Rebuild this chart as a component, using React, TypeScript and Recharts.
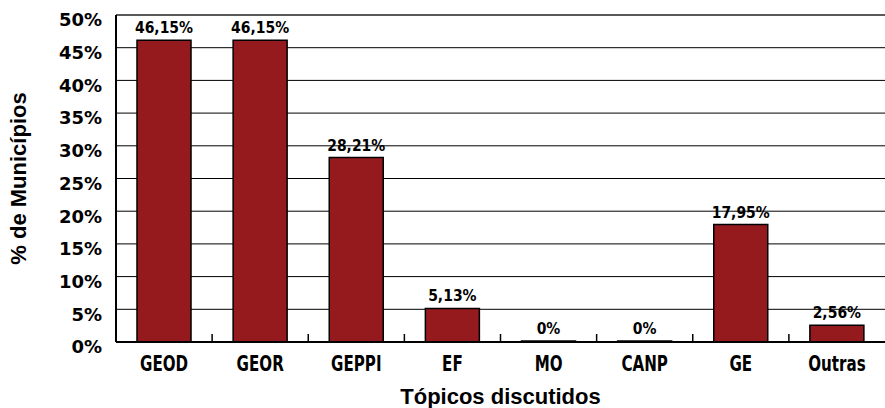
import React from "react";
import {
  BarChart,
  Bar,
  XAxis,
  YAxis,
  CartesianGrid,
  ReferenceLine,
  LabelList,
} from "recharts";

const categories = ["GEOD", "GEOR", "GEPPI", "EF", "MO", "CANP", "GE", "Outras"];
const percentages = [46.15, 46.15, 28.21, 5.13, 0, 0, 17.95, 2.56];
const yTicks = [0, 5, 10, 15, 20, 25, 30, 35, 40, 45, 50];

const data = categories.map((topic, i) => ({ topic, value: percentages[i] }));

const formatLabel = (v: number) =>
  v === 0 ? "0%" : `${v.toFixed(2).replace(".", ",")}%`;

const TICK_MARGIN = 13;

// category label, squeezed to a condensed look, plus the small inner tick on the category's left edge
function CategoryTick(props: any) {
  const { x, y, payload, index } = props;
  const half = payload?.offset ?? 0;
  const axisY = y - TICK_MARGIN;
  return (
    <g>
      {index > 0 && half > 0 && (
        <line
          x1={x - half}
          x2={x - half}
          y1={axisY}
          y2={axisY - 8}
          stroke="#000"
          strokeWidth={1.5}
        />
      )}
      <g transform={`translate(${x},${y})`}>
        <text
          transform="scale(0.72,1)"
          textAnchor="middle"
          dy={15.5}
          fill="#000"
          fontSize={21}
          fontWeight={700}
          fontFamily='"DejaVu Sans", sans-serif'
        >
          {payload.value}
        </text>
      </g>
    </g>
  );
}

export default function App() {
  return (
    <div style={{ position: "absolute", left: 0, top: 0, background: "#fff" }}>
      <BarChart
        width={885}
        height={408}
        data={data}
        margin={{ top: 15, right: 0, bottom: 0, left: 0 }}
      >
        <CartesianGrid vertical={false} stroke="#000" strokeWidth={1} />
        <ReferenceLine y={50} stroke="#5a5a5a" strokeWidth={2} />
        <XAxis
          dataKey="topic"
          height={66}
          tickLine={false}
          tickSize={0}
          tickMargin={TICK_MARGIN}
          axisLine={{ stroke: "#000", strokeWidth: 2 }}
          interval={0}
          tick={<CategoryTick />}
          label={{
            value: "Tópicos discutidos",
            position: "insideBottom",
            offset: 4,
            fill: "#000",
            fontSize: 22,
            fontWeight: 700,
            fontFamily: '"Liberation Sans", Arial, sans-serif',
          }}
        />
        <YAxis
          width={116}
          domain={[0, 50]}
          ticks={yTicks}
          tickLine={false}
          tickSize={0}
          tickMargin={14}
          axisLine={{ stroke: "#000", strokeWidth: 2 }}
          tickFormatter={(v: number) => `${v}%`}
          tick={{
            fill: "#000",
            fontSize: 18,
            fontWeight: 700,
            fontFamily: '"DejaVu Sans", sans-serif',
            dy: 5,
          }}
          label={{
            value: "% de Municípios",
            angle: -90,
            position: "insideLeft",
            offset: 18,
            textAnchor: "middle",
            fill: "#000",
            fontSize: 22,
            fontWeight: 700,
            fontFamily: '"Liberation Sans", Arial, sans-serif',
          }}
        />
        <Bar
          dataKey="value"
          fill="#951a1e"
          stroke="#000"
          strokeWidth={1.5}
          barSize={54}
          minPointSize={1}
          isAnimationActive={false}
        >
          <LabelList
            dataKey="value"
            position="top"
            offset={7}
            formatter={(v: number) => formatLabel(v)}
            fill="#000"
            fontSize={15.5}
            fontWeight={700}
            fontFamily='"DejaVu Sans Condensed", "DejaVu Sans", sans-serif'
          />
        </Bar>
      </BarChart>
    </div>
  );
}
